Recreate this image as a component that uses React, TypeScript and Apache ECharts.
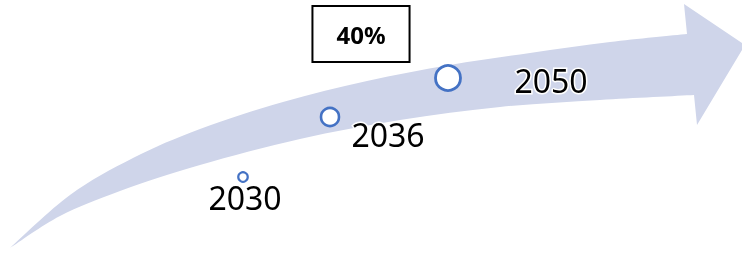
import React, { useEffect, useRef } from "react";
import * as echarts from "echarts";

// Arrow outline (drawing space: x 0..742, y 0..255 top-down)
const upperEdge: number[][] = [
  [10, 248], [70, 195], [133, 158], [200, 129], [283, 102],
  [367, 81], [450, 65], [530, 53], [610, 42], [687, 34],
];
const arrowHead: number[][] = [[687, 34], [684, 4], [745, 45], [697, 125], [694, 95]];
const lowerEdge: number[][] = [
  [10, 248], [60, 216], [120, 191], [200, 165], [300, 139],
  [400, 120], [500, 107], [600, 100], [694, 95],
];

// Milestones
const years = ["2030", "2036", "2050"];
const markerPoints: number[][] = [[243, 177], [330, 117], [448, 78]];
const markerSizes = [9.5, 18, 25];
const markerBorders = [2.2, 2.6, 2.8];
const labelPoints: number[][] = [[245, 197], [388, 134], [551, 80]];

// Callout
const calloutText = "40%";
const calloutPoint: number[] = [361, 34];

function catmull(pts: number[][], moveFirst: boolean): string {
  let d = moveFirst ? `M${pts[0][0]},${pts[0][1]}` : `L${pts[0][0]},${pts[0][1]}`;
  for (let i = 0; i < pts.length - 1; i++) {
    const p0 = pts[i - 1] || pts[i];
    const p1 = pts[i];
    const p2 = pts[i + 1];
    const p3 = pts[i + 2] || p2;
    const c1x = p1[0] + (p2[0] - p0[0]) / 6;
    const c1y = p1[1] + (p2[1] - p0[1]) / 6;
    const c2x = p2[0] - (p3[0] - p1[0]) / 6;
    const c2y = p2[1] - (p3[1] - p1[1]) / 6;
    d += `C${c1x},${c1y},${c2x},${c2y},${p2[0]},${p2[1]}`;
  }
  return d;
}

export default function App() {
  const ref = useRef<HTMLDivElement>(null);
  useEffect(() => {
    if (!ref.current) return;
    const chart = echarts.init(ref.current, null, { renderer: "svg" });
    const font = "'Noto Sans', 'Open Sans', sans-serif";
    chart.setOption({
      animation: false,
      grid: { left: 0, right: 0, top: 0, bottom: 0 },
      xAxis: { type: "value", min: 0, max: 742, show: false },
      yAxis: { type: "value", min: 0, max: 255, inverse: true, show: false },
      series: [
        {
          type: "custom",
          silent: true,
          data: [0],
          renderItem: (params: any, api: any) => {
            const up = upperEdge.map((p) => api.coord(p));
            const head = arrowHead.map((p) => api.coord(p));
            const low = lowerEdge.map((p) => api.coord(p)).reverse();
            let d = catmull(up, true);
            for (let i = 1; i < head.length; i++) d += `L${head[i][0]},${head[i][1]}`;
            d += catmull(low, false) + "Z";
            return {
              type: "path",
              shape: { pathData: d },
              style: { fill: "#CFD5EA", stroke: null },
            };
          },
          z: 1,
        },
        {
          type: "scatter",
          silent: true,
          z: 3,
          data: markerPoints.map((p, i) => ({
            value: p,
            symbolSize: markerSizes[i],
            itemStyle: { borderWidth: markerBorders[i] },
          })),
          symbol: "circle",
          itemStyle: { color: "#ffffff", borderColor: "#4472C4", opacity: 1 },
        },
        {
          type: "scatter",
          silent: true,
          z: 4,
          symbolSize: 0,
          itemStyle: { opacity: 1 },
          data: labelPoints.map((p, i) => ({ value: p, name: years[i] })),
          label: {
            show: true,
            position: "inside",
            formatter: (p: any) => p.name,
            fontFamily: font,
            fontSize: 32,
            color: "#000000",
            opacity: 1,
            textBorderColor: "#ffffff",
            textBorderWidth: 3,
          },
        },
        {
          type: "scatter",
          silent: true,
          z: 5,
          symbolSize: 0,
          itemStyle: { opacity: 1 },
          data: [{ value: calloutPoint, name: calloutText }],
          label: {
            show: true,
            position: "inside",
            formatter: (p: any) => p.name,
            fontFamily: font,
            fontSize: 24,
            fontWeight: "bold",
            color: "#000000",
            opacity: 1,
            textBorderWidth: 0,
            lineHeight: 24,
            padding: [15, 23],
            borderColor: "#000000",
            borderWidth: 2,
            backgroundColor: "#ffffff",
          },
        },
      ],
    });
    return () => chart.dispose();
  }, []);
  return (
    <div
      ref={ref}
      style={{ position: "fixed", left: 0, top: 0, width: 742, height: 255 }}
    />
  );
}
